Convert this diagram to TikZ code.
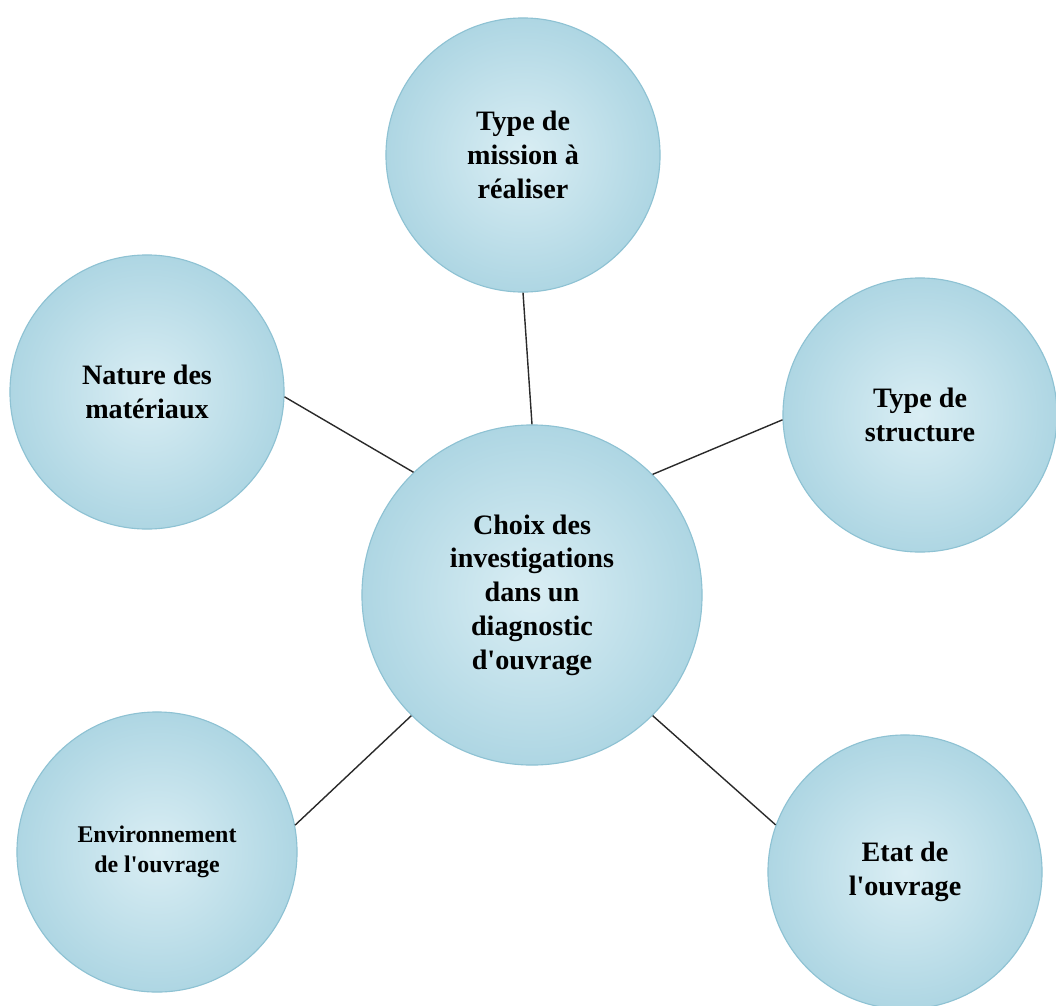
\documentclass[tikz,border=0pt]{standalone}
\usepackage{fontspec}
\newfontfamily\bullefont{Liberation Serif}
\usepackage{tikz}
\usetikzlibrary{positioning}

\definecolor{bulleclair}{HTML}{DAEEF4}
\definecolor{bullefonce}{HTML}{AED6E3}
\definecolor{bullebord}{HTML}{8EC2D3}
\definecolor{trait}{HTML}{2A2A2A}

\begin{document}
\begin{tikzpicture}[x=0.025cm,y=-0.025cm,
  bulle/.style={circle, draw=bullebord, line width=0.8pt,
    inner color=bulleclair, outer color=bullefonce,
    align=center, inner sep=0pt, minimum size=6.85cm,
    font=\bullefont\bfseries\fontsize{20}{24}\selectfont},
  lien/.style={draw=trait, line width=1pt}]
  \useasboundingbox (0,0) rectangle (1056,1005);

  \node[bulle] (mission) at (523,155) {Type de\\mission à\\réaliser};
  \node[bulle] (nature) at (147,392) {Nature des\\matériaux};
  \node[bulle] (structure) at (920,415) {Type de\\structure};
  \node[bulle, minimum size=8.5cm] (choix) at (532,595)
    {Choix des\\investigations\\dans un\\diagnostic\\d'ouvrage};
  \node[bulle, minimum size=7cm,
    font=\bullefont\bfseries\fontsize{17}{21}\selectfont] (env) at (157,852)
    {Environnement\\de l'ouvrage};
  \node[bulle] (etat) at (905,872) {Etat de\\l'ouvrage};

  % liaisons vers le centre
  \draw[lien] (mission.south) -- (choix.north);
  \draw[lien] (nature.-2) -- (choix.134);
  \draw[lien] (structure.182) -- (choix.45);
  \draw[lien] (env.11) -- (choix.225);
  \draw[lien] (etat.160) -- (choix.-45);
\end{tikzpicture}
\end{document}
